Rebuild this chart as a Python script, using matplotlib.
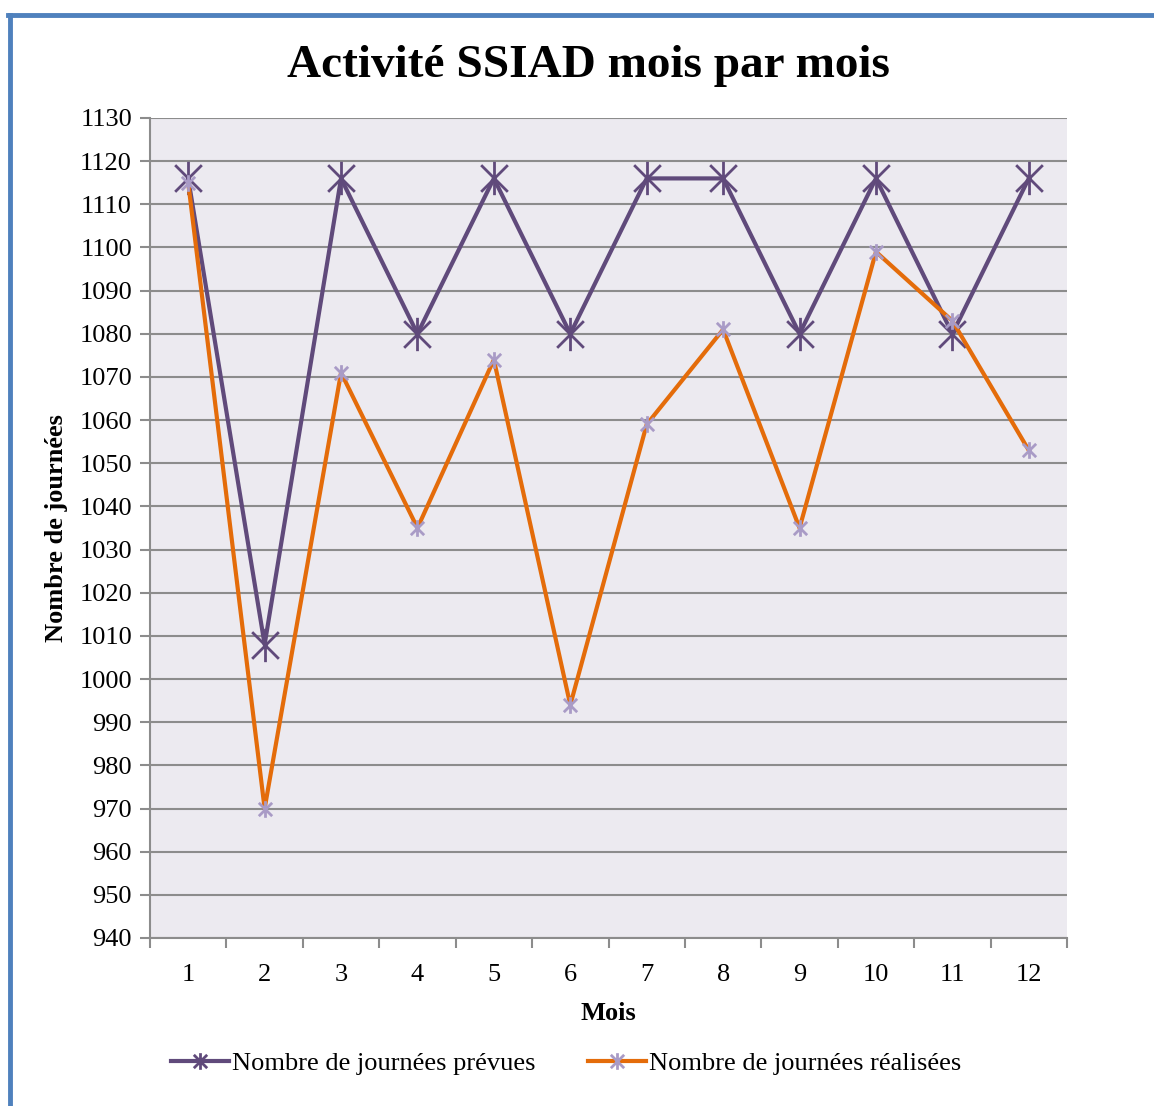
import matplotlib
matplotlib.use("Agg")
import matplotlib.pyplot as plt
from matplotlib.path import Path
from matplotlib.lines import Line2D

months = [1, 2, 3, 4, 5, 6, 7, 8, 9, 10, 11, 12]
prevues = [1116, 1008, 1116, 1080, 1116, 1080, 1116, 1116, 1080, 1116, 1080, 1116]
realisees = [1115, 970, 1071, 1035, 1074, 994, 1059, 1081, 1035, 1099, 1083, 1053]
yticks = list(range(940, 1131, 10))

title = "Activité SSIAD mois par mois"
xlabel = "Mois"
ylabel = "Nombre de journées"
labels = ["Nombre de journées prévues", "Nombre de journées réalisées"]

plt.rcParams['font.family'] = ['Liberation Serif', 'DejaVu Serif']

# Excel-style star marker: X plus vertical line
star = Path([(-1, -1), (1, 1), (-1, 1), (1, -1), (0, -1.25), (0, 1.25)],
            [Path.MOVETO, Path.LINETO, Path.MOVETO, Path.LINETO, Path.MOVETO, Path.LINETO])

purple = '#604A7B'
orange = '#E46C0A'
light_purple = '#A99BC6'

fig = plt.figure(figsize=(11.54, 11.06), dpi=100)
ax = fig.add_axes([150/1154, 1 - 938/1106, (1067-150)/1154, (938-118)/1106])
ax.set_facecolor('#ECEAF0')

ax.plot(months, prevues, color=purple, lw=3, marker=star, markersize=24,
        markeredgecolor=purple, markeredgewidth=2, markerfacecolor='none', zorder=3)
ax.plot(months, realisees, color=orange, lw=3, marker=star, markersize=12,
        markeredgecolor=light_purple, markeredgewidth=2, markerfacecolor='none', zorder=4)

ax.set_xlim(0.5, 12.5)
ax.set_ylim(940, 1130)
ax.set_yticks(yticks)
ax.set_yticklabels([str(v) for v in yticks], fontsize=19)
ax.set_xticks([m - 0.5 for m in months] + [12.5])
ax.set_xticklabels([])
ax.set_xticks(months, minor=True)
ax.set_xticklabels([str(m) for m in months], minor=True, fontsize=19)
ax.tick_params(axis='x', which='major', length=7, width=1.5, color='#8C8C8C', direction='out')
ax.tick_params(axis='x', which='minor', length=0, pad=19)
ax.tick_params(axis='y', length=7, width=1.5, color='#8C8C8C', pad=6)
ax.yaxis.grid(True, color='#8C8C8C', lw=1.5)
ax.set_axisbelow(True)
for s in ['top', 'right']:
    ax.spines[s].set_visible(False)
for s in ['left', 'bottom']:
    ax.spines[s].set_color('#8C8C8C')
    ax.spines[s].set_linewidth(1.5)

ax.set_xlabel(xlabel, fontsize=19, fontweight='bold', labelpad=11)
ax.set_ylabel(ylabel, fontsize=19, fontweight='bold', labelpad=8)
fig.text(588/1154, 1 - 66/1106, title, fontsize=34, fontweight='bold', ha='center', va='center')

handles = [
    Line2D([], [], color=purple, lw=3, marker=star, markersize=12, markeredgecolor=purple,
           markeredgewidth=2),
    Line2D([], [], color=orange, lw=3, marker=star, markersize=12, markeredgecolor=light_purple,
           markeredgewidth=2),
]
fig.legend(handles, labels, loc='center', bbox_to_anchor=(566/1154, 1 - 1063/1106), ncol=2,
           frameon=False, fontsize=19, handlelength=2.2, handletextpad=0.1, columnspacing=2.0)

# blue frame
fig.add_artist(Line2D([10/1154, 10/1154], [0, 1 - 15/1106], color='#4F81BD', lw=3.5,
                      transform=fig.transFigure))
fig.add_artist(Line2D([8/1154, 1], [1 - 15/1106, 1 - 15/1106], color='#4F81BD', lw=3.5,
                      transform=fig.transFigure))

fig.savefig('out.png', dpi=100, facecolor='white')
